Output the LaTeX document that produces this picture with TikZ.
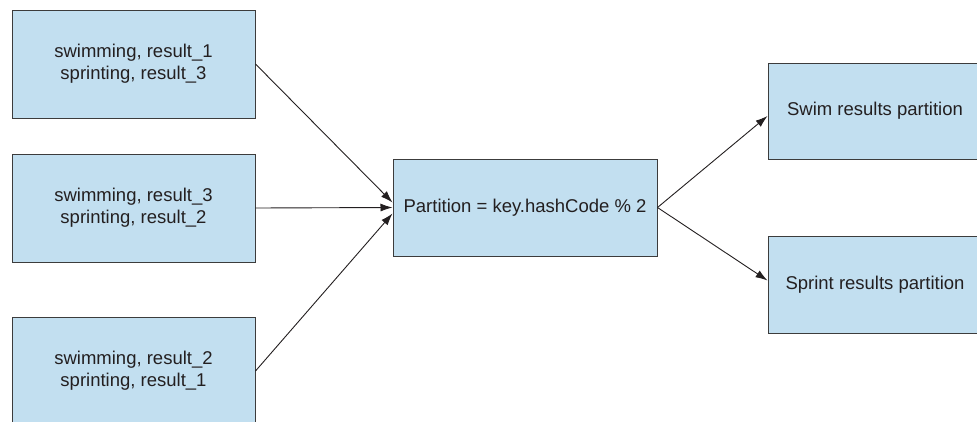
\documentclass[tikz,border=0pt]{standalone}
\usepackage{fontspec}
\setmainfont{Liberation Sans}
\usetikzlibrary{arrows.meta,calc}
\definecolor{boxfill}{HTML}{C2DFF0}
\definecolor{boxline}{HTML}{3C3C3C}
\definecolor{ink}{HTML}{231F20}
\tikzset{
  databox/.style={draw=boxline, fill=boxfill, line width=1pt, rectangle,
    inner sep=0pt, align=center, text=ink,
    font=\fontsize{18.5}{22}\selectfont},
  flow/.style={draw=ink, line width=0.9pt, -{Latex[length=12pt,width=8pt]}}
}
\begin{document}
\begin{tikzpicture}[x=1pt,y=-1pt]
  \useasboundingbox (0,0) rectangle (977,421);
  \begin{scope}
  \clip (0,0) rectangle (977,421);
  % input records
  \node[databox, minimum width=243pt, minimum height=108pt] (in1) at (133.5,64)
    {swimming, result\_1\\sprinting, result\_3};
  \node[databox, minimum width=243pt, minimum height=108pt] (in2) at (133.5,208)
    {swimming, result\_3\\sprinting, result\_2};
  \node[databox, minimum width=243pt, minimum height=108pt] (in3) at (133.5,371)
    {swimming, result\_2\\sprinting, result\_1};
  % partitioner
  \node[databox, minimum width=264pt, minimum height=97pt] (part) at (525,207.5)
    {Partition = key.hashCode \% 2};
  % output partitions
  \node[databox, minimum width=214pt, minimum height=96pt] (swim) at (875,111)
    {Swim results partition};
  \node[databox, minimum width=214pt, minimum height=97pt] (sprint) at (875,284.5)
    {Sprint results partition};
  \end{scope}
  % connectors
  \draw[flow] (in1.east) -- ($(part.west)+(0,-5)$);
  \draw[flow] (in2.east) -- (part.west);
  \draw[flow] (in3.east) -- ($(part.west)+(0,6)$);
  \draw[flow] (part.east) -- ($(swim.west)+(0,5)$);
  \draw[flow] (part.east) -- ($(sprint.west)+(0,-4)$);
\end{tikzpicture}
\end{document}
